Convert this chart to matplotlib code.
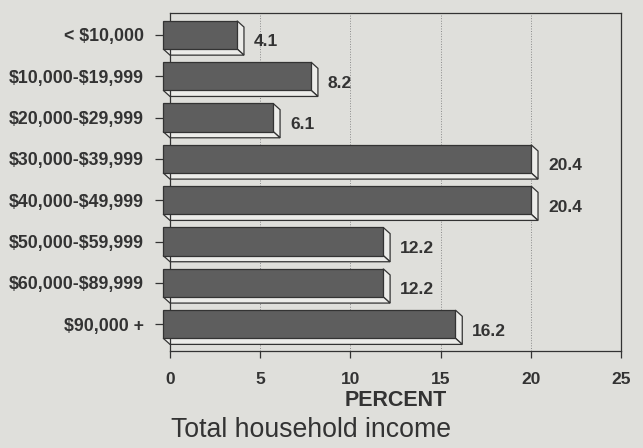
import matplotlib
matplotlib.use('Agg')
import matplotlib.pyplot as plt
from matplotlib.patches import Polygon

# данные
categories = ['< $10,000', '$10,000-$19,999', '$20,000-$29,999', '$30,000-$39,999',
              '$40,000-$49,999', '$50,000-$59,999', '$60,000-$89,999', '$90,000 +']
percent = [4.1, 8.2, 6.1, 20.4, 20.4, 12.2, 12.2, 16.2]
xticks = [0, 5, 10, 15, 20, 25]

plt.rcParams['font.family'] = ['Liberation Sans', 'DejaVu Sans']
plt.rcParams['text.parse_math'] = False  # знаки $ без mathtext

paper = '#dfdfdb'
ink = '#333333'
bar_dark = '#5e5e5e'
bar_light = '#ecece9'

fig = plt.figure(figsize=(6.43, 4.48), dpi=100, facecolor=paper)
ax = fig.add_axes([0.2644, 0.2165, 0.7014, 0.7545], facecolor=paper)

h = 0.68    # высота лицевой грани
dx = 0.38   # глубина по x
dy = 0.15   # глубина по y

ypos = list(range(len(categories)))

# лицевая грань, сдвинута влево на глубину
ax.barh(ypos, percent, height=h, left=-dx, color=bar_dark, edgecolor=ink,
        linewidth=0.9, zorder=3, clip_on=False)

# боковые грани (объём)
for y, v in zip(ypos, percent):
    top, bot = y - h / 2, y + h / 2
    side = Polygon([(v - dx, top), (v, top + dy), (v, bot + dy), (v - dx, bot)],
                   closed=True, facecolor=bar_light, edgecolor=ink, linewidth=0.9,
                   zorder=2.5, clip_on=False)
    under = Polygon([(-dx, bot), (v - dx, bot), (v, bot + dy), (0, bot + dy)],
                    closed=True, facecolor=bar_light, edgecolor=ink, linewidth=0.9,
                    zorder=2.5, clip_on=False)
    ax.add_patch(side)
    ax.add_patch(under)
    ax.text(v + 0.55, y + 0.17, f'{v:.1f}', va='center', ha='left',
            fontsize=12.5, fontweight='bold', color=ink)

ax.set_xlim(0, 25)
ax.set_ylim(7.65, -0.53)
ax.set_xticks(xticks)
ax.set_yticks(ypos)
ax.set_yticklabels(categories)

ax.tick_params(axis='y', length=11, width=0.9, pad=8, color=ink,
               labelsize=12.8, labelcolor=ink)
ax.tick_params(axis='x', length=5, width=0.9, pad=10, color=ink,
               labelsize=12.5, labelcolor=ink)
for lab in ax.get_xticklabels() + ax.get_yticklabels():
    lab.set_fontweight('bold')

for s in ax.spines.values():
    s.set_color(ink)
    s.set_linewidth(0.9)

ax.grid(True, axis='x', linestyle=':', linewidth=0.7, color='#8a8a8a', zorder=0)
ax.set_axisbelow(True)

ax.set_xlabel('PERCENT', fontsize=15.5, fontweight='bold', color=ink, labelpad=2)
fig.text(311 / 643, 1 - 430 / 448, 'Total household income', ha='center',
         va='center', fontsize=19.2, color=ink)

fig.savefig('out.png', dpi=100, facecolor=paper)
